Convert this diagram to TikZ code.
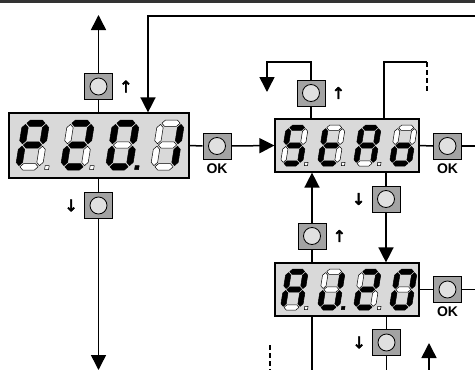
\documentclass[tikz,border=0pt]{standalone}
\usepackage{fontspec}
\setmainfont{Liberation Sans}
\newfontfamily\arrowfont[FakeBold=3]{DejaVu Sans}
\usetikzlibrary{arrows.meta,positioning}

\definecolor{lcdgray}{HTML}{D9D9D9}
\definecolor{btngray}{HTML}{A3A3A3}
\definecolor{btnface}{HTML}{E0E0E0}
\definecolor{topbar}{HTML}{333333}

\tikzset{
  lcd/.style={draw, line width=1.2pt, fill=lcdgray, minimum width=#1, minimum height=53pt, inner sep=0pt},
  btn/.style={draw, line width=1pt, fill=btngray, minimum width=28pt, minimum height=26pt, inner sep=0pt,
    path picture={\draw[line width=0.8pt, fill=btnface] (path picture bounding box.center) circle (8.5pt);}},
  oklabel/.style={font=\bfseries\fontsize{14}{14}\selectfont, inner sep=0pt},
  dirlabel/.style={font=\arrowfont\fontsize{16}{16}\selectfont, inner sep=0pt},
  flow/.style={line width=1.5pt},
  arr/.style={flow, -{Triangle[length=15pt,width=15pt]}},
  seg/.style={draw, line width=0.5pt, line join=round},
}

% one segment, horizontal or vertical
\newcommand{\hseg}[3]{\filldraw[seg, fill=\segfill] (#1,#3) -- (#1+3.2,#3-3.2) -- (#2-3.2,#3-3.2) -- (#2,#3) -- (#2-3.2,#3+3.2) -- (#1+3.2,#3+3.2) -- cycle;}
\newcommand{\vseg}[3]{\filldraw[seg, fill=\segfill] (#1,#2) -- (#1+3.2,#2+3.2) -- (#1+3.2,#3-3.2) -- (#1,#3) -- (#1-3.2,#3-3.2) -- (#1-3.2,#2+3.2) -- cycle;}

% digit: position of lower left corner, scale, states a,b,c,d,e,f,g,dp
\newcommand{\segdigit}[3]{%
  \begin{scope}[shift={(#1)}, scale=#2, xslant=0.16]
    \foreach \s [count=\i] in {#3} {
      \ifnum\s=1 \def\segfill{black}\else\def\segfill{white}\fi
      \ifcase\i\or
        \hseg{4.4}{22.6}{-46.8}\or
        \vseg{23.8}{-45.6}{-26.2}\or
        \vseg{23.8}{-23.8}{-4.4}\or
        \hseg{4.4}{22.6}{-3.2}\or
        \vseg{3.2}{-23.8}{-4.4}\or
        \vseg{3.2}{-45.6}{-26.2}\or
        \hseg{4.4}{22.6}{-25}\or
        \ifnum\s<2 \filldraw[seg, fill=\segfill] (29.5,-4.5) rectangle (33.5,-0.5);\fi
      \fi}
  \end{scope}}

\begin{document}
\begin{tikzpicture}[x=1pt, y=-1pt]
  \useasboundingbox (0,0) rectangle (475,370);
  \fill[topbar] (0,0) rectangle (475,2.5);

  \coordinate (rEdge) at (475,0);
  \coordinate (bEdge) at (0,370);
  \coordinate (topR) at (475,16);
  \coordinate (topL) at (148,16);
  \coordinate (upEnd) at (98.5,15);
  \coordinate (dnEnd) at (98.5,370);
  \coordinate (loopA) at (267,62);
  \coordinate (loopB) at (267,92);
  \coordinate (nxtX) at (384,0);
  \coordinate (nxtA) at (427,62);
  \coordinate (nxtB) at (427,92);
  \coordinate (retA) at (429,370);
  \coordinate (retB) at (429,343);
  \coordinate (prvA) at (270,345);
  \coordinate (prvB) at (270,370);

  % displays
  \node[lcd=180pt, minimum height=65pt] (disp1) at (99,145.5) {};
  \node[lcd=144pt] (disp2) at (347,145.5) {};
  \node[lcd=144pt] (disp3) at (347,289.5) {};

  \segdigit{15,170}{1}{1,1,0,0,1,1,1,0}
  \segdigit{60,170}{1}{1,1,0,1,1,0,1,0}
  \segdigit{105,170}{1}{1,1,1,1,1,1,0,1}
  \segdigit{150,170}{1}{0,1,1,0,0,0,0,2}

  \segdigit{280,166}{0.82}{1,0,1,1,0,1,1,0}
  \segdigit{317,166}{0.82}{0,0,0,1,1,1,1,0}
  \segdigit{353,166}{0.82}{1,1,1,0,1,1,1,0}
  \segdigit{389,166}{0.82}{0,0,1,1,1,0,1,2}

  \segdigit{280,310}{0.82}{1,1,1,0,1,1,1,0}
  \segdigit{317,310}{0.82}{0,1,1,1,1,0,0,1}
  \segdigit{353,310}{0.82}{1,1,0,1,1,0,1,0}
  \segdigit{389,310}{0.82}{1,1,1,1,1,1,0,2}

  % buttons
  \node[btn] (up1) at (98.5,86.5) {};
  \node[dirlabel, right=6pt of up1] (up1lbl) {↑};
  \node[btn] (dn1) at (98.5,205.5) {};
  \node[dirlabel, left=6pt of dn1] (dn1lbl) {↓};
  \node[btn] (ok1) at (217,146) {};
  \node[oklabel, below=4pt of ok1] (ok1lbl) {OK};

  \node[btn] (up2) at (311,93) {};
  \node[dirlabel, right=6pt of up2] (up2lbl) {↑};
  \node[btn] (dn2) at (386,199) {};
  \node[dirlabel, left=6pt of dn2] (dn2lbl) {↓};
  \node[btn] (ok2) at (447.5,146) {};
  \node[oklabel, below=4pt of ok2] (ok2lbl) {OK};

  \node[btn] (up3) at (312,236) {};
  \node[dirlabel, right=6pt of up3] (up3lbl) {↑};
  \node[btn] (dn3) at (386.5,342.5) {};
  \node[dirlabel, left=6pt of dn3] (dn3lbl) {↓};
  \node[btn] (ok3) at (447.5,289.5) {};
  \node[oklabel, below=4pt of ok3] (ok3lbl) {OK};

  % connectors
  \draw[arr] (up1.north) -- (upEnd);
  \draw[flow] (disp1.north -| up1) -- (up1.south);
  \draw[flow] (disp1.south -| dn1) -- (dn1.north);
  \draw[arr] (dn1.south) -- (dnEnd);
  \draw[arr] (topR) -| (disp1.north -| topL);
  \draw[flow] (disp1.east) -- (ok1.west);
  \draw[arr] (ok1.east) -- (disp2.west);

  \draw[flow] (disp2.north -| up2) -- (up2.south);
  \draw[arr] (up2.north) |- (loopA) -- (loopB);
  \draw[flow] (disp2.north -| nxtX) |- (nxtA);
  \draw[flow, dash pattern=on 5pt off 3pt] (nxtA) -- (nxtB);
  \draw[flow] (disp2.east) -- (ok2.west);
  \draw[flow] (ok2.east) -- (ok2.east -| rEdge);
  \draw[flow] (disp2.south -| dn2) -- (dn2.north);
  \draw[arr] (dn2.south) -- (disp3.north -| dn2);

  \draw[flow] (disp3.north -| up3) -- (up3.south);
  \draw[arr] (up3.north) -- (disp2.south -| up3);
  \draw[flow] (disp3.south -| up3) -- (up3 |- bEdge);
  \draw[flow] (disp3.east) -- (ok3.west);
  \draw[flow] (ok3.east) -- (ok3.east -| rEdge);
  \draw[flow] (disp3.south -| dn3) -- (dn3.north);
  \draw[flow] (dn3.south) -- (dn3 |- bEdge);
  \draw[arr] (retA) -- (retB);
  \draw[flow, dash pattern=on 5pt off 3pt] (prvA) -- (prvB);
\end{tikzpicture}
\end{document}
